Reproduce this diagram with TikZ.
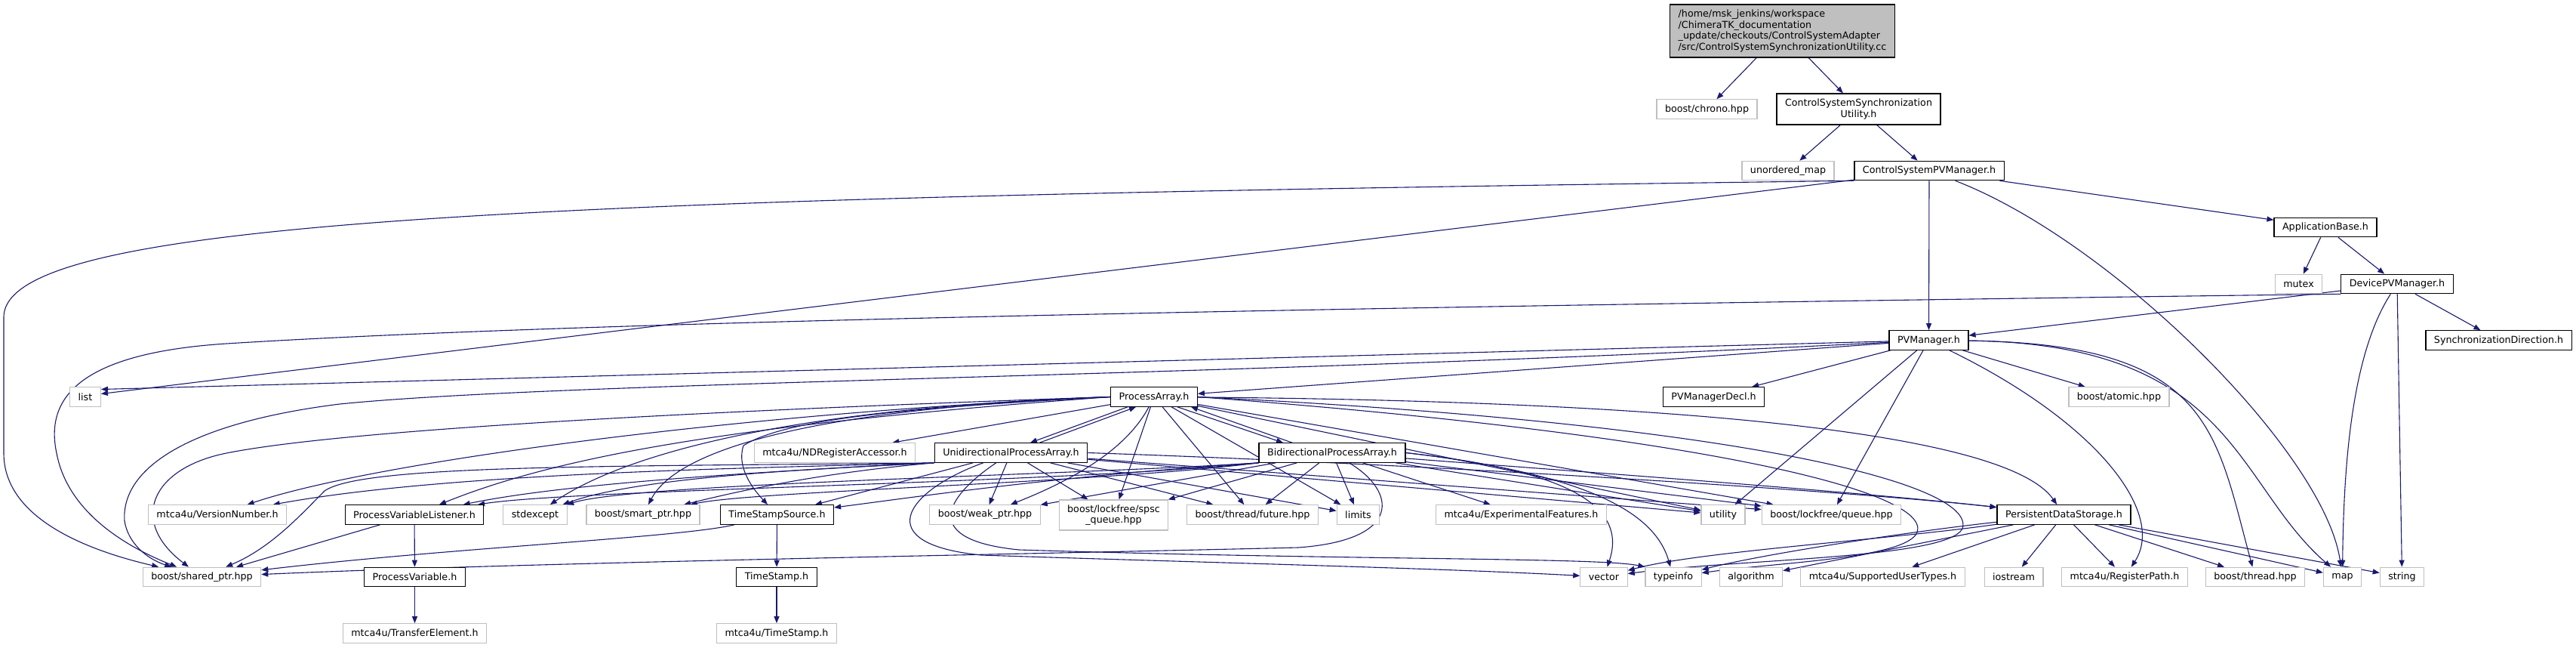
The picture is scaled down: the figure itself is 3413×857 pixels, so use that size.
\documentclass[tikz,border=0pt]{standalone}
\usepackage{fontspec}
\usepackage{tikz}
\usetikzlibrary{arrows.meta}
\newfontfamily\graphfont{DejaVu Sans}
\definecolor{edgeblue}{RGB}{25,25,112}
\definecolor{boxgrey}{RGB}{191,191,191}
\def\gfont{\graphfont\fontsize{12.7}{14.2}\selectfont}
\def\rootfont{\graphfont\fontsize{12.7}{14.7}\selectfont}
\pgfdeclarelayer{edges}
\pgfsetlayers{edges,main}

\begin{document}
\begin{tikzpicture}[x=1pt, y=-1pt,
		filebox/.style={draw=black, line width=1.2pt, fill=white, font=\gfont, inner xsep=11pt, inner ysep=2pt, minimum height=25.5pt},
		extbox/.style={filebox, draw=boxgrey},
		dep/.style={draw=edgeblue, line width=1.1pt, -{Triangle[length=9pt,width=7pt]}}]
			%%%%% START %%%%%
			
			\useasboundingbox (0,0) rectangle (3413,857);
			
			\node[filebox, fill=boxgrey, align=left, minimum height=70pt, font=\rootfont] (root) at (2361.5,41) {/home/msk\_jenkins/workspace\\/ChimeraTK\_documentation\\\_update/checkouts/ControlSystemAdapter\\/src/ControlSystemSynchronizationUtility.cc};
			\node[extbox] (chrono) at (2261.5,144.5) {boost/chrono.hpp};
			\node[filebox, align=center, minimum height=41pt] (cssu) at (2462.5,144.5) {ControlSystemSynchronization\\Utility.h};
			
			\node[extbox] (umap) at (2369,226) {unordered\_map};
			\node[filebox] (cspvm) at (2556,226) {ControlSystemPVManager.h};
			\node[filebox] (appbase) at (3081,301) {ApplicationBase.h};
			\node[extbox] (mutex) at (3045.5,376) {mutex};
			\node[filebox] (devpvm) at (3176,376) {DevicePVManager.h};
			\node[filebox] (pvm) at (2555.5,450.5) {PVManager.h};
			\node[filebox] (syncdir) at (3310.5,450.5) {SynchronizationDirection.h};
			
			\node[extbox] (list) at (113,525.5) {list};
			\node[filebox] (parray) at (1529,525.5) {ProcessArray.h};
			\node[filebox] (pvmdecl) at (2270.5,525.5) {PVManagerDecl.h};
			\node[extbox] (atomic) at (2807.5,525.5) {boost/atomic.hpp};
			
			\node[extbox] (ndreg) at (1106,599.5) {mtca4u/NDRegisterAccessor.h};
			\node[filebox] (uniarray) at (1339.5,599.5) {UnidirectionalProcessArray.h};
			\node[filebox] (biarray) at (1765,599.5) {BidirectionalProcessArray.h};
			
			\node[extbox] (vnum) at (288,681.5) {mtca4u/VersionNumber.h};
			\node[filebox] (pvlist) at (549,681.5) {ProcessVariableListener.h};
			\node[extbox] (stdexc) at (709,681.5) {stdexcept};
			\node[extbox] (smartptr) at (852,681.5) {boost/smart\_ptr.hpp};
			\node[filebox] (tsource) at (1029.5,681.5) {TimeStampSource.h};
			\node[extbox] (weakptr) at (1305,681.5) {boost/weak\_ptr.hpp};
			\node[extbox, align=center, minimum height=40pt] (spsc) at (1475.5,682) {boost/lockfree/spsc\\\_queue.hpp};
			\node[extbox] (future) at (1659.5,681.5) {boost/thread/future.hpp};
			\node[extbox] (limits) at (1799.5,681.5) {limits};
			\node[extbox] (expfeat) at (2015.5,681.5) {mtca4u/ExperimentalFeatures.h};
			\node[extbox] (utility) at (2283,681.5) {utility};
			\node[extbox] (lfqueue) at (2426.5,681.5) {boost/lockfree/queue.hpp};
			\node[filebox] (pds) at (2734.5,681.5) {PersistentDataStorage.h};
			
			\node[extbox] (sharedptr) at (267.5,764) {boost/shared\_ptr.hpp};
			\node[filebox] (pvar) at (549.5,764) {ProcessVariable.h};
			\node[filebox] (tstamp) at (1029,764) {TimeStamp.h};
			\node[extbox] (vector) at (2125,764) {vector};
			\node[extbox] (typeinfo) at (2217,764) {typeinfo};
			\node[extbox] (algorithm) at (2320,764) {algorithm};
			\node[extbox] (suptypes) at (2494.5,764) {mtca4u/SupportedUserTypes.h};
			\node[extbox] (iostream) at (2668,764) {iostream};
			\node[extbox] (regpath) at (2815,764) {mtca4u/RegisterPath.h};
			\node[extbox] (bthread) at (2988,764) {boost/thread.hpp};
			\node[extbox] (map) at (3103.5,764) {map};
			\node[extbox] (string) at (3182.5,764) {string};
			
			\node[extbox] (transel) at (549.5,838.5) {mtca4u/TransferElement.h};
			\node[extbox] (mtstamp) at (1029,838.5) {mtca4u/TimeStamp.h};
			
			\begin{pgfonlayer}{edges}
			% top part
			\draw[dep] (root) -- (chrono);
			\draw[dep] (root) -- (cssu);
			\draw[dep] (cssu) -- (umap);
			\draw[dep] (cssu) -- (cspvm);
			\draw[dep] (cspvm) -- (appbase);
			\draw[dep] (cspvm) -- (pvm);
			\draw[dep] (cspvm) -- ([yshift=4pt]list.east);
			\draw[dep] (cspvm) .. controls (2800,320) and (3080,600) .. (map);
			\draw[dep] (cspvm.south west) .. controls (700,262) and (5,290) .. (5,420) -- (5,600) .. controls (5,680) and (100,725) .. (sharedptr);
			
			\draw[dep] (appbase) -- (mutex);
			\draw[dep] (appbase) -- (devpvm);
			\draw[dep] (devpvm) -- (syncdir);
			\draw[dep] (devpvm) -- (string);
			\draw[dep] (devpvm) .. controls (3115,470) and (3105,620) .. (map);
			\draw[dep] (devpvm) -- (pvm);
			\draw[dep] (devpvm.south west) .. controls (1500,410) and (700,430) .. (300,455) .. controls (100,468) and (60,530) .. (75,600) .. controls (90,680) and (170,725) .. (sharedptr);
			
			% PVManager.h
			\draw[dep] (pvm) -- ([yshift=10pt]list.east);
			\draw[dep] (pvm) -- (parray);
			\draw[dep] (pvm) -- (pvmdecl);
			\draw[dep] (pvm) -- (atomic);
			\draw[dep] (pvm) -- (utility);
			\draw[dep] (pvm) -- (lfqueue);
			\draw[dep] (pvm) .. controls (2780,560) and (2870,680) .. (regpath);
			\draw[dep] (pvm) .. controls (2930,455) and (2935,570) .. (bthread);
			\draw[dep] (pvm) .. controls (2960,455) and (2960,640) .. (map);
			\draw[dep] (pvm) .. controls (1600,500) and (750,505) .. (450,535) .. controls (250,560) and (160,620) .. (165,690) .. controls (170,720) and (195,740) .. (sharedptr);
			
			% ProcessArray.h
			\draw[dep] (parray) -- (ndreg);
			\draw[dep] ([xshift=-35pt]parray.south) -- ([xshift=25.5pt]uniarray.north);
			\draw[dep] ([xshift=38pt]uniarray.north) -- ([xshift=-24pt]parray.south);
			\draw[dep] ([xshift=31pt]parray.south) -- ([xshift=-65pt]biarray.north);
			\draw[dep] ([xshift=-53pt]biarray.north) -- ([xshift=49pt]parray.south);
			\draw[dep] (parray.west) .. controls (900,545) and (450,570) .. (300,600) .. controls (200,620) and (170,690) .. (sharedptr);
			\draw[dep] (parray.west) .. controls (1000,545) and (500,610) .. (vnum);
			\draw[dep] (parray.west) .. controls (1000,560) and (750,600) .. (pvlist);
			\draw[dep] (parray.west) .. controls (1050,540) and (830,600) .. (stdexc);
			\draw[dep] (parray.west) .. controls (1100,540) and (900,590) .. (smartptr);
			\draw[dep] (parray.west) .. controls (1200,540) and (1040,555) .. (985,590) .. controls (975,620) and (1000,650) .. (tsource);
			\draw[dep] (parray) .. controls (1490,600) and (1410,640) .. (weakptr);
			\draw[dep] (parray) -- (spsc);
			\draw[dep] (parray) -- (future);
			\draw[dep] (parray) -- (limits);
			\draw[dep] (parray) -- (utility);
			\draw[dep] (parray) -- (lfqueue);
			\draw[dep] (parray) .. controls (2100,530) and (2650,560) .. (pds);
			\draw[dep] (parray.east) .. controls (2300,560) and (2620,640) .. (2600,700) .. controls (2580,740) and (2300,740) .. (vector);
			\draw[dep] (parray.east) .. controls (2250,575) and (2560,650) .. (2540,705) .. controls (2525,740) and (2350,745) .. (typeinfo);
			
			% UnidirectionalProcessArray.h
			\draw[dep] (uniarray.south west) .. controls (800,618) and (480,615) .. (430,650) .. controls (400,680) and (360,725) .. (sharedptr);
			\draw[dep] (uniarray.south west) .. controls (1000,620) and (600,625) .. (vnum);
			\draw[dep] (uniarray.south west) .. controls (1000,625) and (750,640) .. (pvlist);
			\draw[dep] (uniarray.south west) .. controls (1100,620) and (850,630) .. (stdexc);
			\draw[dep] (uniarray.south west) .. controls (1100,625) and (1000,645) .. (smartptr);
			\draw[dep] (uniarray) -- (tsource);
			\draw[dep] (uniarray) -- (weakptr);
			\draw[dep] (uniarray) -- (spsc);
			\draw[dep] (uniarray) -- (future);
			\draw[dep] (uniarray) -- (limits);
			\draw[dep] (uniarray) -- (utility);
			\draw[dep] (uniarray) -- (lfqueue);
			\draw[dep] (uniarray.east) .. controls (1900,615) and (2450,650) .. (pds);
			\draw[dep] (uniarray) .. controls (1200,650) and (1150,720) .. (1300,735) .. controls (1600,745) and (1900,752) .. (vector);
			\draw[dep] (uniarray) .. controls (1250,660) and (1220,715) .. (1350,728) .. controls (1800,742) and (2120,738) .. (typeinfo.north west);
			
			% BidirectionalProcessArray.h
			\draw[dep] (biarray) .. controls (1850,650) and (1860,715) .. (1720,725) .. controls (1300,735) and (700,745) .. (sharedptr);
			\draw[dep] (biarray.south west) .. controls (1400,640) and (760,648) .. (pvlist);
			\draw[dep] (biarray.south west) .. controls (1400,630) and (840,640) .. (stdexc);
			\draw[dep] (biarray.south west) .. controls (1450,640) and (1000,650) .. (smartptr);
			\draw[dep] (biarray.south west) .. controls (1400,630) and (1200,660) .. (tsource);
			\draw[dep] (biarray) -- (weakptr);
			\draw[dep] (biarray) -- (spsc);
			\draw[dep] (biarray) -- (future);
			\draw[dep] (biarray) -- (limits);
			\draw[dep] (biarray) -- (expfeat);
			\draw[dep] (biarray) -- (utility);
			\draw[dep] (biarray) -- (lfqueue);
			\draw[dep] (biarray) .. controls (2100,625) and (2450,650) .. (pds);
			\draw[dep] (biarray.east) .. controls (2050,620) and (2160,660) .. (vector);
			\draw[dep] (biarray.east) .. controls (2080,625) and (2190,670) .. (typeinfo);
			
			% lower part
			\draw[dep] (pvlist) -- (sharedptr);
			\draw[dep] (pvlist) -- (pvar);
			\draw[dep] (pvar) -- (transel);
			\draw[dep] (tsource) -- (tstamp);
			\draw[dep] (tstamp) -- (mtstamp);
			\draw[dep] (tsource) .. controls (900,712) and (600,725) .. (sharedptr);
			
			\draw[dep] (pds) .. controls (2500,715) and (2250,730) .. (vector);
			\draw[dep] (pds) .. controls (2520,705) and (2330,735) .. (typeinfo);
			\draw[dep] (pds) -- (algorithm);
			\draw[dep] (pds) -- (suptypes);
			\draw[dep] (pds) -- (iostream);
			\draw[dep] (pds) -- (regpath);
			\draw[dep] (pds) -- (bthread);
			\draw[dep] (pds) -- (map);
			\draw[dep] (pds) -- (string);
			\end{pgfonlayer}
			
			%%%%% END %%%%%
\end{tikzpicture}
\end{document}
